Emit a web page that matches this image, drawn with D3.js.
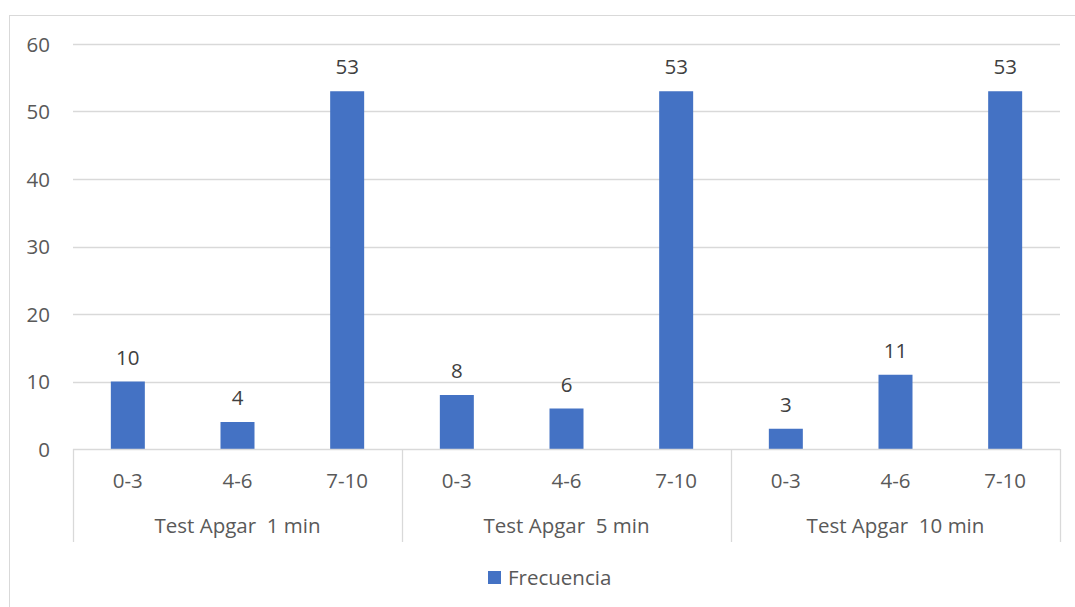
<!DOCTYPE html>
<html>
<head>
<meta charset="utf-8">
<script src="https://cdn.jsdelivr.net/npm/d3@7"></script>
<style>
  html, body { margin: 0; padding: 0; background: #fff; }
  svg text { font-family: "Open Sans", "Noto Sans", sans-serif; }
</style>
</head>
<body>
<svg id="chart" width="1075" height="607"></svg>
<script>
// Apgar test results: frequency per score range at each time point
const groups = ["Test Apgar  1 min", "Test Apgar  5 min", "Test Apgar  10 min"];
const ranges = ["0-3", "4-6", "7-10"];
const freq1 = [10, 4, 53];
const freq5 = [8, 6, 53];
const freq10 = [3, 11, 53];
const yTicks = [0, 10, 20, 30, 40, 50, 60];
const seriesName = "Frecuencia";

const seriesByGroup = [freq1, freq5, freq10];
const rows = [];
groups.forEach((g, gi) => ranges.forEach((r, ri) => {
  rows.push({ group: g, range: r, key: g + "|" + r, value: seriesByGroup[gi][ri] });
}));

const svg = d3.select("#chart");
const barColor = "#4472C4";
const gridColor = "#d9d9d9";
const textColor = "#595959";
const fs = 20.5;

// chart frame
svg.append("rect")
  .attr("x", 9.5).attr("y", 15.5)
  .attr("width", 1100).attr("height", 620)
  .attr("fill", "none").attr("stroke", "#d9d9d9").attr("stroke-width", 1);

const plotLeft = 73, plotRight = 1060, plotTop = 44, plotBottom = 449;

const y = d3.scaleLinear().domain([0, 60]).range([plotBottom, plotTop]);
const xGroup = d3.scaleBand().domain(groups).range([plotLeft, plotRight]).padding(0);
const x = d3.scaleBand().domain(rows.map(d => d.key)).range([plotLeft, plotRight]).paddingInner(0.69).paddingOuter(0.345);

// horizontal gridlines
svg.append("g").selectAll("line").data(yTicks.filter(t => t > 0)).join("line")
  .attr("x1", plotLeft).attr("x2", plotRight)
  .attr("y1", d => Math.round(y(d)) + 0.5).attr("y2", d => Math.round(y(d)) + 0.5)
  .attr("stroke", gridColor).attr("stroke-width", 1.3);

// y tick labels
const yAxis = d3.axisLeft(y).tickValues(yTicks).tickSize(0).tickPadding(0);
const yg = svg.append("g").attr("transform", `translate(${50},0)`).call(yAxis);
yg.select(".domain").remove();
yg.selectAll("text").attr("font-size", fs).attr("fill", textColor)
  .attr("font-family", '"Open Sans", sans-serif').attr("dy", "0.35em");

// bars
svg.append("g").selectAll("rect").data(rows).join("rect")
  .attr("x", d => x(d.key)).attr("width", x.bandwidth())
  .attr("y", d => y(d.value)).attr("height", d => y(0) - y(d.value))
  .attr("fill", barColor);

// value labels
svg.append("g").selectAll("text").data(rows).join("text")
  .attr("x", d => x(d.key) + x.bandwidth() / 2)
  .attr("y", d => y(d.value) - 24)
  .attr("text-anchor", "middle").attr("dy", "0.35em")
  .attr("font-size", fs).attr("fill", "#404040")
  .text(d => d.value);

// category axis baseline
svg.append("line")
  .attr("x1", plotLeft).attr("x2", plotRight)
  .attr("y1", plotBottom + 0.5).attr("y2", plotBottom + 0.5)
  .attr("stroke", gridColor).attr("stroke-width", 1.3);

// group separators
const seps = groups.map(g => xGroup(g)).concat([plotRight]);
svg.append("g").selectAll("line").data(seps).join("line")
  .attr("x1", d => Math.round(d) + 0.5).attr("x2", d => Math.round(d) + 0.5)
  .attr("y1", plotBottom).attr("y2", 542)
  .attr("stroke", gridColor).attr("stroke-width", 1.3);

// range labels
svg.append("g").selectAll("text").data(rows).join("text")
  .attr("x", d => x(d.key) + x.bandwidth() / 2)
  .attr("y", 481).attr("dy", "0.35em")
  .attr("text-anchor", "middle").attr("font-size", fs).attr("fill", textColor)
  .text(d => d.range);

// group labels
svg.append("g").selectAll("text").data(groups).join("text")
  .attr("x", d => xGroup(d) + xGroup.bandwidth() / 2)
  .attr("y", 526).attr("dy", "0.35em")
  .attr("text-anchor", "middle").attr("font-size", fs).attr("fill", textColor)
  .style("white-space", "pre").attr("xml:space", "preserve")
  .text(d => d);

// legend
const lg = svg.append("g");
lg.append("rect").attr("x", 488).attr("y", 571).attr("width", 13).attr("height", 13).attr("fill", barColor);
lg.append("text").attr("x", 508).attr("y", 578).attr("dy", "0.35em")
  .attr("font-size", fs).attr("fill", textColor).text(seriesName);
</script>
</body>
</html>
